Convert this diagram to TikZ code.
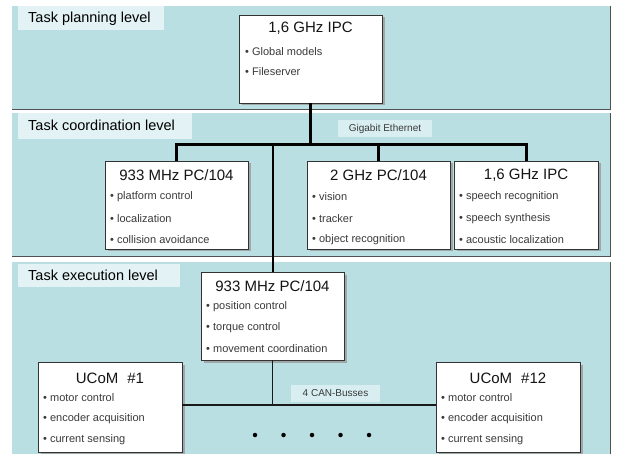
\documentclass[tikz,border=0pt]{standalone}
\usepackage{fontspec}
\setmainfont{Liberation Sans}
\usetikzlibrary{shadows}
\definecolor{panelfill}{HTML}{BADFE3}
\definecolor{labelfill}{HTML}{E3F2F4}
\definecolor{busfill}{HTML}{D8EEF1}
\definecolor{panelline}{HTML}{505050}
\definecolor{bultext}{HTML}{3A3A3A}
\tikzset{
  panel/.style={fill=panelfill, draw=none},
  paneledge/.style={draw=panelline, line width=1pt},
  levellabel/.style={fill=labelfill, inner sep=0pt, anchor=north west, text height=10pt, text depth=3pt, font=\fontsize{14.5}{16}\selectfont},
  compbox/.style={draw=black!80, line width=0.8pt, fill=white, inner sep=0pt,
    drop shadow={shadow xshift=2.5pt, shadow yshift=-2.5pt, fill=black!40, opacity=0.8}},
  boxtitle/.style={inner sep=0pt, font=\fontsize{15}{17}\selectfont, text=black!92},
  bullet/.style={inner sep=0pt, anchor=west, font=\fontsize{11}{13}\selectfont, text=bultext},
  buslabel/.style={inner sep=0pt, font=\fontsize{10}{12}\selectfont, text=bultext},
  ethbus/.style={line width=3pt, draw=black},
  trunk/.style={line width=2pt, draw=black},
  canbus/.style={line width=1.5pt, draw=black!90},
  busdot/.style={circle, fill=black, inner sep=0pt, minimum size=4.5pt}
}
\begin{document}
\begin{tikzpicture}[x=1pt,y=-1pt]
\useasboundingbox[fill=white] (0,0) rectangle (618,454);

% panels
\path[panel] (12,6) rectangle (610,110);
\draw[paneledge] (12,110) -- (610,110) -- (610,6);
\path[panel] (12,113) rectangle (610,257);
\draw[paneledge] (12,257) -- (610,257) -- (610,113);
\path[panel] (12,262) rectangle (610,454);
\draw[paneledge] (610,262) -- (610,454);

% level labels
\path[fill=labelfill] (18,6) rectangle (164,30);
\node[levellabel] (L1) at (28,12) {Task planning level};
\path[fill=labelfill] (18,113) rectangle (192,139);
\node[levellabel] (L2) at (28,120) {Task coordination level};
\path[fill=labelfill] (18,264) rectangle (180,287);
\node[levellabel] (L3) at (28,270) {Task execution level};

% bus labels
\node[fill=busfill, minimum width=94pt, minimum height=17pt, inner sep=0pt] (eth) at (385,128.5) {};
\node[buslabel] (ethtext) at (eth.center) {Gigabit Ethernet};
\node[fill=busfill, minimum width=89pt, minimum height=17pt, inner sep=0pt] (can) at (335.5,393.5) {};
\node[buslabel] (cantext) at (can.center) {4 CAN-Busses};

% boxes
\node[compbox, minimum width=143pt, minimum height=88pt] (B0) at (310.5,59) {};
\node[compbox, minimum width=143pt, minimum height=88pt] (B1) at (176.5,205) {};
\node[compbox, minimum width=143pt, minimum height=88pt] (B2) at (378.5,205) {};
\node[compbox, minimum width=144pt, minimum height=88pt] (B3) at (526,205) {};
\node[compbox, minimum width=143pt, minimum height=88pt] (E) at (272.5,316) {};
\node[compbox, minimum width=144pt, minimum height=90pt] (U1) at (110,407) {};
\node[compbox, minimum width=144pt, minimum height=90pt] (U12) at (508,407) {};

% bus coordinates
\coordinate (busL) at (176.5,145);
\coordinate (busR) at (526,145);
\coordinate (canY) at (0,405);

% connectors (Gigabit Ethernet)
\draw[ethbus] (B0.south) -- (B0.south |- busL);
\draw[ethbus, line cap=rect] (busL) -- (busR);
\draw[ethbus] (busL) -- (B1.north);
\draw[ethbus] (B2.north |- busL) -- (B2.north);
\draw[ethbus] (busR) -- (B3.north);
\draw[trunk] (E.north |- busL) -- (E.north);
% CAN
\draw[canbus] (E.south) -- (E.south |- canY);
\draw[canbus] (U1.east |- canY) -- (U12.west |- canY);

% box contents
\node[boxtitle] (B0t) at (310.5,28) {1,6 GHz IPC};
\node[bullet] (B0a) at (245,52) {• Global models};
\node[bullet] (B0b) at (245,72) {• Fileserver};

\node[boxtitle] (B1t) at (176.5,175) {933 MHz PC/104};
\node[bullet] (B1a) at (110,197) {• platform control};
\node[bullet] (B1b) at (110,219) {• localization};
\node[bullet] (B1c) at (110,240) {• collision avoidance};

\node[boxtitle] (B2t) at (378.5,175) {2 GHz PC/104};
\node[bullet] (B2a) at (312,197) {• vision};
\node[bullet] (B2b) at (312,219) {• tracker};
\node[bullet] (B2c) at (312,240) {• object recognition};

\node[boxtitle] (B3t) at (526,175) {1,6 GHz IPC};
\node[bullet] (B3a) at (459,197) {• speech recognition};
\node[bullet] (B3b) at (459,219) {• speech synthesis};
\node[bullet] (B3c) at (459,240) {• acoustic localization};

\node[boxtitle] (Et) at (272.5,286) {933 MHz PC/104};
\node[bullet] (Ea) at (206,307) {• position control};
\node[bullet] (Eb) at (206,328) {• torque control};
\node[bullet] (Ec) at (206,349) {• movement coordination};

\node[boxtitle] (U1t) at (110,378) {UCoM\hspace{9pt}\#1};
\node[bullet] (U1a) at (43,398) {• motor control};
\node[bullet] (U1b) at (43,419) {• encoder acquisition};
\node[bullet] (U1c) at (43,440) {• current sensing};

\node[boxtitle] (U12t) at (508,378) {UCoM\hspace{9pt}\#12};
\node[bullet] (U12a) at (441,398) {• motor control};
\node[bullet] (U12b) at (441,419) {• encoder acquisition};
\node[bullet] (U12c) at (441,440) {• current sensing};

% dots
\node[busdot] (d1) at (255,435) {};
\node[busdot] (d2) at (283.5,435) {};
\node[busdot] (d3) at (312,435) {};
\node[busdot] (d4) at (340.5,435) {};
\node[busdot] (d5) at (369,435) {};
\end{tikzpicture}
\end{document}
